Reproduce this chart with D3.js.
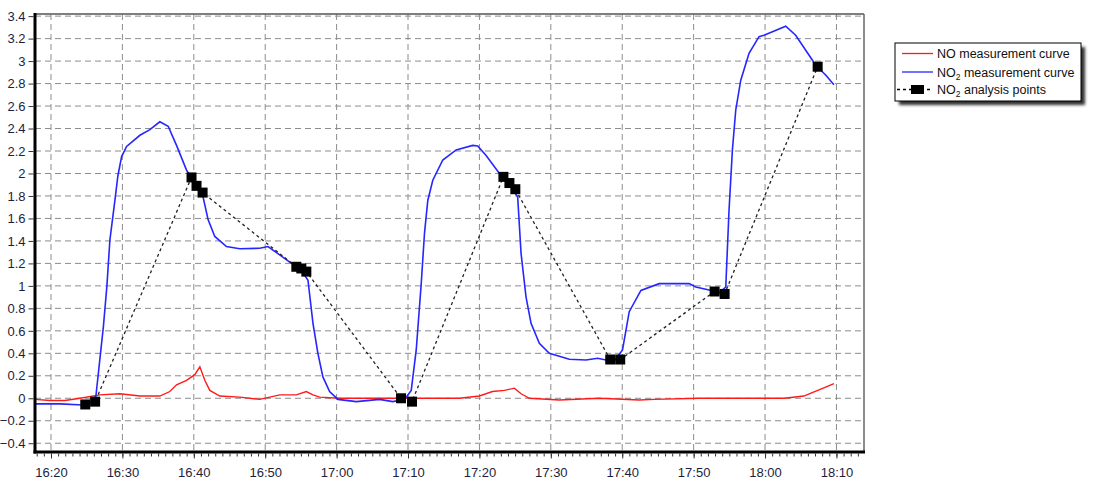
<!DOCTYPE html>
<html><head><meta charset="utf-8">
<script src="https://cdn.jsdelivr.net/npm/d3@7"></script>
<style>
html,body{margin:0;padding:0;background:#fff;}
svg{display:block;font-family:"Liberation Sans",Arial,sans-serif;}
</style></head>
<body><svg id="c" width="1105" height="492"></svg>
<script>
// minutes after 16:00
const no2Times = [17.76,21.26,24.48,25.73,26.29,26.85,27.34,27.83,28.25,28.95,29.37,29.89,30.59,32.45,33.85,35.24,36.41,37.58,38.98,39.72,40.56,41.30,42.0,42.94,44.57,46.43,49.23,50.39,52.03,53.66,54.83,55.99,56.69,57.38,58.08,59.02,60.18,62.76,66.01,67.87,69.51,70.45,71.15,71.85,72.31,72.77,73.47,74.87,76.74,79.06,79.76,80.94,82.80,83.78,84.76,85.36,85.83,86.53,87.23,88.39,89.79,92.59,94.92,96.55,97.72,99.02,100.04,100.98,102.62,105.17,109.37,110.30,112.17,113.57,114.50,114.96,115.43,115.90,116.60,117.76,119.16,119.86,122.90,124.29,126.62,127.13,128.49,129.65];
const no2Values = [-0.05,-0.05,-0.06,-0.03,0.02,0.35,0.64,1.0,1.41,1.76,1.98,2.15,2.24,2.34,2.39,2.46,2.42,2.25,2.03,1.96,1.86,1.79,1.59,1.44,1.35,1.33,1.335,1.35,1.275,1.2,1.16,1.05,0.667,0.4,0.19,0.06,-0.01,-0.03,-0.01,-0.03,-0.01,0.07,0.43,1.02,1.47,1.76,1.94,2.12,2.21,2.25,2.245,2.16,2.0,1.94,1.85,1.79,1.29,0.9,0.667,0.49,0.4,0.347,0.34,0.356,0.34,0.34,0.43,0.77,0.96,1.02,1.02,0.99,0.963,0.94,0.99,1.675,2.21,2.565,2.83,3.07,3.217,3.23,3.31,3.23,3.01,2.96,2.876,2.79];
const noTimes = [17.76,19.86,21.96,24.06,26.85,29.65,32.45,35.24,36.64,37.58,38.98,40.14,40.85,41.54,42.24,43.64,46.43,49.23,52.03,54.36,55.76,56.69,57.62,60.42,66.01,71.61,77.20,80.0,81.82,83.50,84.90,85.83,87.0,91.19,96.78,102.38,104.5,110.8,119.16,122.66,125.45,126.43,127.55,128.49,129.65];
const noValues = [-0.01,-0.02,-0.02,0.0,0.03,0.04,0.02,0.02,0.06,0.12,0.16,0.21,0.28,0.16,0.07,0.02,0.01,-0.01,0.03,0.03,0.06,0.03,0.01,0.0,0.0,0.0,0.0,0.02,0.06,0.07,0.09,0.04,0.0,-0.015,0.0,-0.015,-0.01,0.0,0.0,0.0,0.02,0.045,0.074,0.1,0.13];
const ptTimes = [24.8,26.18,39.68,40.38,41.23,54.36,55.06,55.76,69.02,70.56,83.36,84.2,85.03,98.32,99.72,112.94,114.34,127.37];
const ptValues = [-0.055,-0.03,1.965,1.89,1.83,1.17,1.155,1.127,0.0,-0.03,1.97,1.915,1.86,0.345,0.345,0.95,0.928,2.95];
const yTicks = [-0.4,-0.2,0,0.2,0.4,0.6,0.8,1,1.2,1.4,1.6,1.8,2,2.2,2.4,2.6,2.8,3,3.2,3.4];
const legendLabels = [["NO measurement curve"],["NO","2"," measurement curve"],["NO","2"," analysis points"]];

const base = new Date(2000,0,1,16,0,0).getTime();
const T = m => new Date(base + m*60000);

const L=35,R=864,TOP=14,B=452;
const x = d3.scaleTime().domain([T(17.76),T(133.86)]).range([L,R]);
const y = d3.scaleLinear().domain([-0.478,3.419]).range([B,TOP]);
const svg = d3.select("#c");
const txt = "#1e1e3c";

// grid
const g = svg.append("g");
g.selectAll("line.h").data(yTicks).join("line")
  .attr("x1",L).attr("x2",R).attr("y1",d=>y(d)).attr("y2",d=>y(d))
  .attr("stroke","#8c8c8c").attr("stroke-dasharray","6,4").attr("stroke-width",1);
const xt = x.ticks(d3.timeMinute.every(10));
g.selectAll("line.v").data(xt).join("line")
  .attr("x1",d=>x(d)).attr("x2",d=>x(d)).attr("y1",TOP).attr("y2",B)
  .attr("stroke","#8c8c8c").attr("stroke-dasharray","6,4").attr("stroke-width",1);

// lines
const line = d3.line().x(d=>x(T(d[0]))).y(d=>y(d[1]));
svg.append("path").datum(noTimes.map((t,i)=>[t,noValues[i]]))
  .attr("d",line).attr("fill","none").attr("stroke","#ff1a1a").attr("stroke-width",1.4);
svg.append("path").datum(no2Times.map((t,i)=>[t,no2Values[i]]))
  .attr("d",line).attr("fill","none").attr("stroke","#2626ff").attr("stroke-width",1.6);
const pts = ptTimes.map((t,i)=>[t,ptValues[i]]);
svg.append("path").datum(pts).attr("d",line).attr("fill","none")
  .attr("stroke","#222").attr("stroke-width",1.3).attr("stroke-dasharray","3,3");
svg.selectAll("rect.pt").data(pts).join("rect")
  .attr("x",d=>x(T(d[0]))-5).attr("y",d=>y(d[1])-5).attr("width",10).attr("height",10).attr("fill","#000");

// frame
svg.append("line").attr("x1",L).attr("x2",R).attr("y1",TOP).attr("y2",TOP).attr("stroke","#555").attr("stroke-width",1.5);
svg.append("line").attr("x1",R).attr("x2",R).attr("y1",TOP).attr("y2",B).attr("stroke","#666").attr("stroke-width",1.5);
svg.append("line").attr("x1",L).attr("x2",L).attr("y1",TOP-1).attr("y2",B+1.5).attr("stroke","#000").attr("stroke-width",3);
svg.append("line").attr("x1",L-1.5).attr("x2",R+1).attr("y1",B).attr("y2",B).attr("stroke","#000").attr("stroke-width",3);

// y axis
const ya = d3.axisLeft(y).tickValues(yTicks).tickSize(5).tickPadding(3).tickFormat(d3.format("~g"));
const yg = svg.append("g").attr("transform",`translate(${L-1.5},0)`).call(ya);
yg.select(".domain").remove();
yg.selectAll("text").attr("fill",txt).attr("font-size",13).attr("font-family","Liberation Sans, Arial");
yg.selectAll("line").attr("stroke","#333");

// x axis
const xa = d3.axisBottom(x).ticks(d3.timeMinute.every(10)).tickFormat(d3.timeFormat("%H:%M")).tickSize(5).tickPadding(9);
const xg = svg.append("g").attr("transform",`translate(0,${B+1.5})`).call(xa);
xg.select(".domain").remove();
xg.selectAll("text").attr("fill",txt).attr("font-size",13).attr("font-family","Liberation Sans, Arial");
xg.selectAll("line").attr("stroke","#333");
const xm = d3.axisBottom(x).ticks(d3.timeSecond.every(150)).tickFormat("").tickSize(3);
const xmg = svg.append("g").attr("transform",`translate(0,${B+1.5})`).call(xm);
xmg.select(".domain").remove();
xmg.selectAll("line").attr("stroke","#333");

// legend
const defs = svg.append("defs");
const f = defs.append("filter").attr("id","sh").attr("x","-10%").attr("y","-10%").attr("width","130%").attr("height","140%");
f.append("feGaussianBlur").attr("stdDeviation",1.5);
const lx=895, ly=43, lw=186, lh=58;
svg.append("rect").attr("x",lx+4).attr("y",ly+4).attr("width",lw).attr("height",lh).attr("fill","#333").attr("filter","url(#sh)");
svg.append("rect").attr("x",lx).attr("y",ly).attr("width",lw).attr("height",lh).attr("fill","#fff").attr("stroke","#000").attr("stroke-width",1);
const rows=[53.5,72,89.5];
svg.append("line").attr("x1",902).attr("x2",933).attr("y1",rows[0]).attr("y2",rows[0]).attr("stroke","#ff1a1a").attr("stroke-width",1.3);
svg.append("line").attr("x1",902).attr("x2",933).attr("y1",rows[1]).attr("y2",rows[1]).attr("stroke","#2626ff").attr("stroke-width",1.3);
svg.append("line").attr("x1",897).attr("x2",933).attr("y1",rows[2]).attr("y2",rows[2]).attr("stroke","#000").attr("stroke-width",1.3).attr("stroke-dasharray","3,3");
svg.append("rect").attr("x",911).attr("y",rows[2]-4.5).attr("width",13).attr("height",9).attr("fill","#000");
legendLabels.forEach((parts,i)=>{
  const t = svg.append("text").attr("x",937).attr("y",rows[i]+4.5).attr("font-size",12.5).attr("fill","#111");
  parts.forEach((p,j)=>{
    const s = t.append("tspan").text(p);
    if(parts.length>1 && j===1) s.attr("font-size",8.5).attr("dy",3);
    if(parts.length>1 && j===2) s.attr("dy",-3);
  });
});
</script></body></html>
